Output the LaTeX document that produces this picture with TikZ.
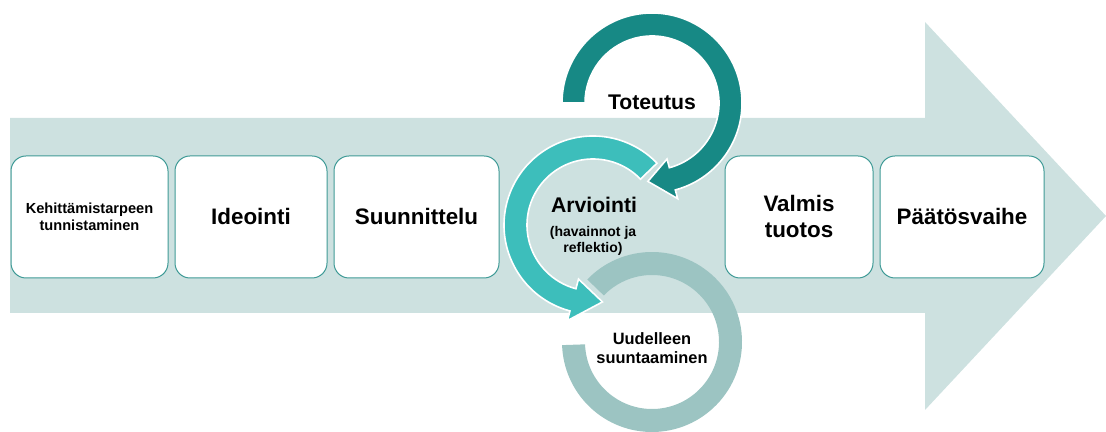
\documentclass[tikz,border=0pt]{standalone}
\usepackage{fontspec}
\setmainfont{Liberation Sans}
\usetikzlibrary{positioning}
\definecolor{arrowbg}{HTML}{CDE1E0}
\definecolor{boxline}{HTML}{3E9A96}
\definecolor{ringdark}{HTML}{178985}
\definecolor{ringmid}{HTML}{3DBEBB}
\definecolor{ringgray}{HTML}{9CC4C2}
\tikzset{phase/.style={draw=boxline, fill=white, rounded corners=7.5pt, line width=0.5pt, align=center, inner sep=2pt, minimum height=61pt, font=\bfseries\fontsize{11.2}{13}\selectfont},
    ringtext/.style={align=center, inner sep=1pt, font=\bfseries\fontsize{10.6}{12}\selectfont}}

\begin{document}
\begin{tikzpicture}[x=0.5pt,y=0.5pt]
                 \useasboundingbox (0,0) rectangle (1106,432);
                 \fill[arrowbg](10,314)--(925,314)--(925,410)--(1106,216)--(925,22)--(925,119)--(10,119)--cycle;
                 \node[phase, minimum width=78.5pt, font=\bfseries\fontsize{7.3}{8.5}\selectfont](kehitys)at(89.5,215){Kehittämistarpeen\\tunnistaminen};
                 \node[phase, minimum width=76pt, right=3pt of kehitys](ideointi){Ideointi};
                 \node[phase, minimum width=82.5pt, right=3pt of ideointi](suunnittelu){Suunnittelu};
                 \node[phase, minimum width=74pt](tuotos)at(799,215){Valmis\\tuotos};
                 \node[phase, minimum width=82pt, right=3pt of tuotos](paatos){Päätösvaihe};
                 \coordinate(cdown)at(652,90);
                 \coordinate(cmid)at(593,207);
                 \coordinate(ctop)at(652,329);
                 \fill[ringgray]([shift={(cdown)}]136:90) arc[start angle=136, end angle=-178, radius=90]--([shift={(cdown)}]-178:67) arc[start angle=-178, end angle=136, radius=67]--cycle;
                 \filldraw[ringmid, draw=white, line width=0.8pt]([shift={(cmid)}]44:66) arc[start angle=44, end angle=255, radius=66]--([shift={(cmid)}]255:56)--([shift={(cmid)}]277:77.5)--([shift={(cmid)}]255:99)--([shift={(cmid)}]255:89) arc[start angle=255, end angle=44, radius=89]--cycle;
                 \filldraw[ringdark, draw=white, line width=0.8pt]([shift={(ctop)}]180:90) arc[start angle=180, end angle=-75, radius=90]--([shift={(ctop)}]-75:99)--([shift={(ctop)}]-93:78.5)--([shift={(ctop)}]-75:58)--([shift={(ctop)}]-75:67) arc[start angle=-75, end angle=180, radius=67]--cycle;
                 \node[ringtext](toteutus)at(652,330){Toteutus};
                 \node[ringtext](arviointi)at(594,227){Arviointi};
                 \node[ringtext, font=\bfseries\fontsize{7}{8}\selectfont](havainnot)at(593,191){(havainnot ja\\reflektio)};
                 \node[ringtext, font=\bfseries\fontsize{8.2}{9.5}\selectfont](suuntaus)at(652,84){Uudelleen\\suuntaaminen};
             \end{tikzpicture}
\end{document}
